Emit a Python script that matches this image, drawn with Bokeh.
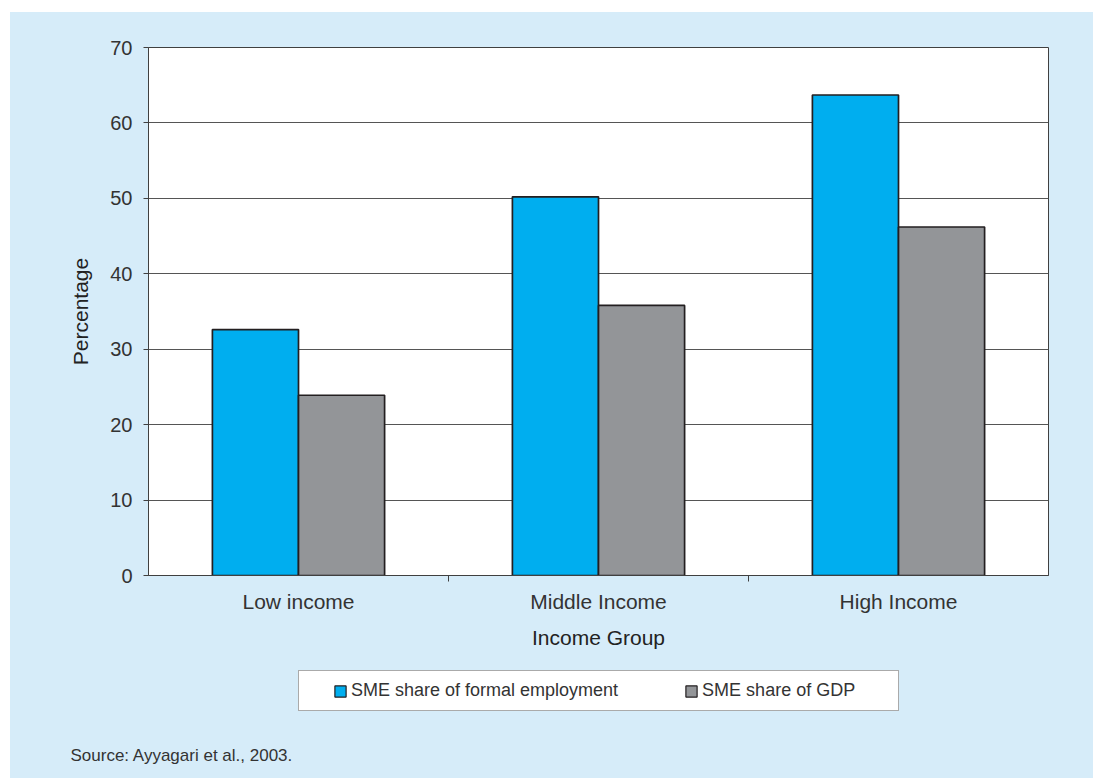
import numpy as np
from bokeh.plotting import figure
from bokeh.layouts import column
from bokeh.models import (ColumnDataSource, Range1d, FixedTicker, Legend,
                          LegendItem, Label)
from bokeh.embed import file_html
from bokeh.resources import INLINE

# ---- data ----
categories = ["Low income", "Middle Income", "High Income"]
employment = [32.6, 50.2, 63.7]
gdp = [23.9, 35.8, 46.2]
y_ticks = [0, 10, 20, 30, 40, 50, 60, 70]
series_names = ["SME share of formal employment", "SME share of GDP"]
source_note = "Source: Ayyagari et al., 2003."

# ---- styles ----
FONT = "Liberation Sans"
BG = "#D6ECF9"
BLUE = "#00AEEF"
GRAY = "#939598"
EDGE = "#231F20"
AXC = "#404040"
TXT = "#333333"

n = len(categories)
centers = np.arange(n) + 0.5
bw = 0.287

# ---------------- main chart ----------------
p = figure(width=1083, height=656, output_backend="svg", toolbar_location=None,
           title=None,
           x_range=Range1d(0, n), y_range=Range1d(0, 70),
           min_border_left=138, min_border_top=35, min_border_right=45,
           min_border_bottom=93)
p.border_fill_color = BG
p.background_fill_color = "white"
p.outline_line_color = AXC
p.outline_line_width = 1

src = ColumnDataSource(dict(x1=centers - bw / 2, x2=centers + bw / 2,
                            emp=employment, gdp=gdp))
r1 = p.vbar(x="x1", top="emp", bottom=0, width=bw, source=src,
            fill_color=BLUE, line_color=EDGE, line_width=1.7)
r2 = p.vbar(x="x2", top="gdp", bottom=0, width=bw, source=src,
            fill_color=GRAY, line_color=EDGE, line_width=1.7)

p.xgrid.visible = False
p.ygrid.grid_line_color = "#555555"
p.ygrid.grid_line_width = 1

p.yaxis.ticker = FixedTicker(ticks=y_ticks)
p.yaxis.axis_line_color = AXC
p.yaxis.major_tick_line_color = AXC
p.yaxis.major_tick_out = 5
p.yaxis.major_tick_in = 0
p.yaxis.minor_tick_line_color = None
p.yaxis.major_label_standoff = 11
p.yaxis.major_label_text_font = FONT
p.yaxis.major_label_text_font_size = "20px"
p.yaxis.major_label_text_color = TXT
p.yaxis.axis_label = "Percentage"
p.yaxis.axis_label_text_font = FONT
p.yaxis.axis_label_text_font_size = "21px"
p.yaxis.axis_label_text_font_style = "normal"
p.yaxis.axis_label_text_color = "#222222"
p.yaxis.axis_label_standoff = 15

p.xaxis.ticker = FixedTicker(ticks=[float(c) for c in centers],
                             minor_ticks=[float(i) for i in range(1, n)])
p.xaxis.major_label_overrides = {float(c): name for c, name in zip(centers, categories)}
p.xaxis.axis_line_color = AXC
p.xaxis.major_tick_out = 0
p.xaxis.major_tick_in = 0
p.xaxis.major_tick_line_color = None
p.xaxis.minor_tick_line_color = AXC
p.xaxis.minor_tick_out = 6
p.xaxis.minor_tick_in = 0
p.xaxis.major_label_standoff = 8
p.xaxis.major_label_text_font = FONT
p.xaxis.major_label_text_font_size = "21px"
p.xaxis.major_label_text_color = TXT
p.xaxis.axis_label = "Income Group"
p.xaxis.axis_label_text_font = FONT
p.xaxis.axis_label_text_font_size = "21px"
p.xaxis.axis_label_text_font_style = "normal"
p.xaxis.axis_label_text_color = "#222222"
p.xaxis.axis_label_standoff = 10

# ---------------- legend + source strip ----------------
q = figure(width=1083, height=110, output_backend="svg", toolbar_location=None,
           title=None, x_axis_location=None, y_axis_location=None,
           x_range=Range1d(0, 1), y_range=Range1d(0, 1), min_border=0)
q.border_fill_color = BG
q.background_fill_color = BG
q.outline_line_color = None
q.xgrid.visible = False
q.ygrid.visible = False

for fig in (p, q):
    try:
        fig.frame_align = False
    except Exception:
        pass

# legend proxies styled like the bar series (kept outside the strip's range)
proxy = ColumnDataSource(dict(x=[-5.0], top=[-5.0]))
k1 = q.vbar(x="x", top="top", width=0.1, source=proxy,
            fill_color=BLUE, line_color=EDGE, line_width=1.2)
k2 = q.vbar(x="x", top="top", width=0.1, source=proxy,
            fill_color=GRAY, line_color=EDGE, line_width=1.2)

legend = Legend(items=[LegendItem(label=series_names[0], renderers=[k1]),
                       LegendItem(label=series_names[1], renderers=[k2])],
                orientation="horizontal", location=(288, 67),
                padding=9, spacing=66, margin=0,
                glyph_width=14, glyph_height=14, label_standoff=4,
                label_width=187,
                label_text_font=FONT, label_text_font_size="18px",
                label_text_color=TXT,
                border_line_color="#555555", border_line_width=1,
                background_fill_color="white", background_fill_alpha=1)
try:
    legend.title = " "
    legend.title_location = "left"
    legend.title_standoff = 14
    legend.title_text_font_size = "10px"
except Exception:
    legend.title = None
q.add_layout(legend, "center")

note = Label(x=60, y=23, x_units="screen", y_units="screen",
             text=source_note, text_font=FONT, text_font_size="17px",
             text_baseline="middle", text_color=TXT)
q.add_layout(note)

layout = column(p, q, spacing=0)
layout.margin = (12, 0, 0, 10)
try:
    layout.styles = {"background-color": BG}
except Exception:
    pass

open("out.html", "w").write(file_html(layout, INLINE))
